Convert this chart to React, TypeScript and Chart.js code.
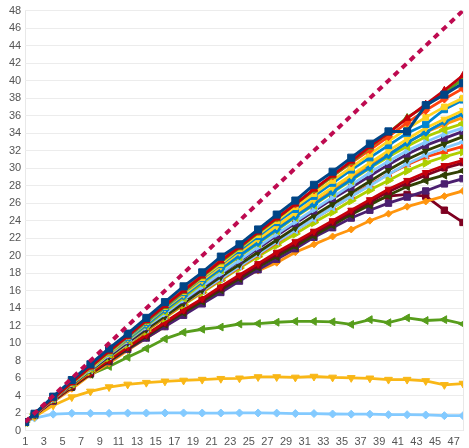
import React, { useEffect, useRef } from "react";
import { Chart, registerables } from "chart.js";

Chart.register(...registerables);

const X_POINTS = [1, 2, 4, 6, 8, 10, 12, 14, 16, 18, 20, 22, 24, 26, 28, 30, 32, 34, 36, 38, 40, 42, 44, 46, 48];
const X_TICKS = [1, 3, 5, 7, 9, 11, 13, 15, 17, 19, 21, 23, 25, 27, 29, 31, 33, 35, 37, 39, 41, 43, 45, 47, 48];
const Y_TICK_STEP = 2;

const IDEAL = [1, 2, 4, 6, 8, 10, 12, 14, 16, 18, 20, 22, 24, 26, 28, 30, 32, 34, 36, 38, 40, 42, 44, 46, 48];

const S_DARKBLUE = [1, 1.95, 3.9, 5.8, 7.6, 9.4, 11.1, 12.9, 14.7, 16.5, 18.1, 19.9, 21.3, 23.0, 24.7, 26.3, 28.1, 29.6, 31.2, 32.8, 34.2, 34.2, 37.2, 38.4, 39.7];
const S_RED_TOP = [1, 1.9, 3.7, 5.5, 7.3, 9.1, 10.8, 12.6, 14.3, 16.0, 17.7, 19.4, 21.0, 22.7, 24.3, 25.9, 27.6, 29.2, 30.8, 32.5, 34.0, 35.7, 37.3, 38.9, 40.6];
const S_GREEN_TOP = [1, 1.9, 3.7, 5.5, 7.3, 9.0, 10.8, 12.5, 14.2, 15.9, 17.6, 19.3, 20.9, 22.6, 24.2, 25.9, 27.5, 29.1, 30.7, 32.4, 34.0, 35.8, 37.1, 38.6, 40.2];
const S_ORANGERED = [1, 1.9, 3.8, 5.6, 7.4, 9.2, 10.9, 12.6, 14.4, 16.1, 17.8, 19.5, 21.1, 22.8, 24.3, 25.9, 27.5, 29.1, 30.6, 32.1, 33.6, 35.2, 36.6, 37.9, 39.1];
const S_YELLOW2 = [1, 1.9, 3.8, 5.6, 7.3, 9.0, 10.8, 12.5, 14.2, 15.9, 17.5, 19.1, 20.8, 22.4, 24.0, 25.6, 27.1, 28.6, 30.1, 31.6, 33.1, 34.5, 35.8, 37.0, 38.0];
const S_BLUE = [1, 1.9, 3.8, 5.6, 7.3, 9.0, 10.7, 12.4, 14.1, 15.8, 17.4, 19.0, 20.6, 22.2, 23.8, 25.3, 26.8, 28.3, 29.8, 31.2, 32.6, 34.0, 35.0, 36.7, 37.8];
const S_YELLOW = [1, 1.9, 3.7, 5.5, 7.2, 8.9, 10.6, 12.3, 14.0, 15.6, 17.2, 18.8, 20.4, 21.9, 23.4, 24.9, 26.4, 27.8, 29.2, 30.6, 32.0, 33.3, 34.6, 35.6, 36.6];
const S_BLUE2 = [1, 1.9, 3.7, 5.5, 7.2, 8.9, 10.5, 12.1, 13.8, 15.4, 17.0, 18.5, 20.0, 21.5, 23.0, 24.5, 25.9, 27.3, 28.7, 30.1, 31.5, 32.9, 34.1, 35.3, 36.2];
const S_ORANGE2 = [1, 1.9, 3.7, 5.5, 7.2, 8.9, 10.5, 12.2, 13.8, 15.4, 17.0, 18.6, 20.1, 21.6, 23.1, 24.6, 26.0, 27.5, 28.9, 30.3, 31.6, 32.9, 34.1, 35.0, 35.8];
const S_LIME = [1, 1.9, 3.7, 5.4, 7.1, 8.8, 10.4, 12.0, 13.6, 15.2, 16.8, 18.4, 19.9, 21.4, 22.9, 24.4, 25.8, 27.2, 28.6, 30.0, 31.3, 32.5, 33.6, 34.4, 35.1];
const S_LIGHTBLUE2 = [1, 1.85, 3.6, 5.4, 7.0, 8.7, 10.3, 11.9, 13.4, 15.0, 16.5, 18.0, 19.5, 21.0, 22.5, 23.9, 25.3, 26.7, 28.1, 29.5, 30.8, 32.0, 33.0, 33.9, 34.6];
const S_PURPLE = [1, 1.85, 3.6, 5.3, 7.0, 8.6, 10.2, 11.8, 13.4, 14.9, 16.4, 17.9, 19.4, 20.8, 22.3, 23.7, 25.1, 26.5, 27.8, 29.1, 30.4, 31.6, 32.6, 33.4, 34.2];
const S_DARKGREEN = [1, 1.85, 3.6, 5.3, 6.9, 8.5, 10.1, 11.6, 13.1, 14.6, 16.1, 17.6, 19.0, 20.4, 21.8, 23.2, 24.6, 25.9, 27.2, 28.5, 29.8, 31.0, 32.0, 32.8, 33.6];
const S_LIGHTBLUE = [1, 1.85, 3.6, 5.3, 6.9, 8.5, 10.0, 11.6, 13.1, 14.6, 16.0, 17.4, 18.8, 20.2, 21.6, 22.9, 24.2, 25.5, 26.8, 28.0, 29.3, 30.5, 31.5, 32.3, 33.0];
const S_ORANGERED2 = [1, 1.85, 3.6, 5.3, 6.9, 8.5, 10.0, 11.5, 13.0, 14.5, 15.9, 17.3, 18.7, 20.1, 21.5, 22.9, 24.2, 25.5, 26.8, 28.1, 29.3, 30.4, 31.3, 31.9, 32.5];
const S_LIME2 = [1, 1.85, 3.6, 5.2, 6.8, 8.4, 9.9, 11.4, 12.9, 14.4, 15.8, 17.2, 18.6, 19.9, 21.2, 22.5, 23.8, 25.0, 26.3, 27.5, 28.6, 29.7, 30.6, 31.3, 31.9];
const S_RED = [1, 1.8, 3.5, 5.1, 6.6, 8.1, 9.6, 11.0, 12.4, 13.8, 15.1, 16.5, 17.8, 19.1, 20.4, 21.6, 22.8, 24.0, 25.2, 26.4, 27.6, 28.6, 29.5, 30.3, 30.9];
const S_MAROON = [1, 1.8, 3.5, 5.1, 6.6, 8.1, 9.5, 10.9, 12.3, 13.7, 15.0, 16.3, 17.6, 18.9, 20.2, 21.4, 22.6, 23.8, 25.0, 26.2, 27.3, 28.3, 29.2, 30.0, 30.6];
const S_DARKGREEN2 = [1, 1.8, 3.5, 5.0, 6.5, 8.0, 9.4, 10.8, 12.2, 13.5, 14.8, 16.1, 17.4, 18.7, 19.9, 21.1, 22.3, 23.5, 24.7, 25.8, 26.9, 27.9, 28.6, 29.2, 29.7];
const S_PURPLE2 = [1, 1.8, 3.4, 5.0, 6.5, 7.9, 9.3, 10.6, 11.9, 13.2, 14.5, 15.8, 17.1, 18.4, 19.6, 20.8, 22.1, 23.2, 24.3, 25.2, 26.0, 26.7, 27.4, 28.2, 28.8];
const S_ORANGE = [1, 1.75, 3.3, 4.8, 6.4, 7.7, 9.2, 10.6, 11.9, 13.4, 14.8, 15.9, 17.3, 18.3, 19.2, 20.4, 21.3, 22.2, 23.0, 24.0, 24.8, 25.6, 26.2, 26.8, 27.4];
const S_MAROON2 = [1, 1.8, 3.5, 5.1, 6.6, 8.1, 9.5, 10.9, 12.3, 13.6, 14.9, 16.2, 17.5, 18.8, 20.0, 21.2, 22.5, 23.6, 24.8, 26.0, 26.8, 27.0, 26.8, 25.2, 23.8];
const S_GREEN_LOW = [1, 1.9, 3.6, 5.1, 6.45, 7.35, 8.4, 9.4, 10.5, 11.25, 11.6, 11.85, 12.2, 12.25, 12.4, 12.5, 12.5, 12.45, 12.15, 12.7, 12.35, 12.9, 12.6, 12.7, 12.2];
const S_YELLOW_LOW = [1, 1.6, 2.9, 3.85, 4.5, 5.0, 5.3, 5.5, 5.65, 5.75, 5.85, 5.95, 6.0, 6.15, 6.15, 6.1, 6.2, 6.1, 6.05, 6.0, 5.85, 5.85, 5.7, 5.25, 5.4];
const S_LIGHTBLUE_LOW = [1, 1.45, 1.9, 2.0, 2.0, 2.0, 2.02, 2.03, 2.04, 2.04, 2.03, 2.03, 2.04, 2.04, 2.02, 1.97, 1.97, 1.92, 1.9, 1.9, 1.84, 1.84, 1.81, 1.73, 1.73];

type Spec = { data: number[]; color: string; style: string; rot?: number; r?: number; w?: number };

const SERIES: Spec[] = [
  { data: S_DARKBLUE, color: "#004586", style: "rect", r: 5, w: 3 },
  { data: S_RED_TOP, color: "#c5000b", style: "triangle" },
  { data: S_GREEN_TOP, color: "#579d1c", style: "triangle" },
  { data: S_ORANGERED, color: "#ff420e", style: "rectRot" },
  { data: S_YELLOW2, color: "#ffd320", style: "rect" },
  { data: S_BLUE, color: "#0084d1", style: "rect", r: 4.5 },
  { data: S_YELLOW, color: "#ffd320", style: "triangle", rot: 180 },
  { data: S_BLUE2, color: "#0084d1", style: "rectRot" },
  { data: S_ORANGE2, color: "#ff950e", style: "triangle", rot: 90 },
  { data: S_LIME, color: "#aecf00", style: "triangle", rot: -90, r: 5 },
  { data: S_LIGHTBLUE2, color: "#83caff", style: "triangle", rot: 90 },
  { data: S_PURPLE, color: "#4b1f6f", style: "rect" },
  { data: S_DARKGREEN, color: "#314004", style: "triangle", rot: 180 },
  { data: S_LIGHTBLUE, color: "#83caff", style: "triangle", rot: -90 },
  { data: S_ORANGERED2, color: "#ff420e", style: "triangle" },
  { data: S_LIME2, color: "#aecf00", style: "triangle", rot: 90, r: 5 },
  { data: S_RED, color: "#c5000b", style: "triangle", rot: 180 },
  { data: S_MAROON, color: "#7e0021", style: "rect" },
  { data: S_DARKGREEN2, color: "#314004", style: "triangle", rot: -90, r: 4.5 },
  { data: S_PURPLE2, color: "#4b1f6f", style: "rect", r: 4.5 },
  { data: S_ORANGE, color: "#ff950e", style: "rectRot", r: 3.5 },
  { data: S_MAROON2, color: "#7e0021", style: "rect", r: 4.5 },
  { data: S_GREEN_LOW, color: "#579d1c", style: "triangle", rot: -90, r: 4.5 },
  { data: S_YELLOW_LOW, color: "#f9b716", style: "triangle", rot: 180, r: 4.5 },
  { data: S_LIGHTBLUE_LOW, color: "#83caff", style: "rectRot", r: 4 },
];

export default function App() {
  const ref = useRef<HTMLCanvasElement | null>(null);
  useEffect(() => {
    document.body.style.margin = "0";
    const canvas = ref.current;
    if (!canvas) return;
    const toPts = (arr: number[]) => arr.map((v, i) => ({ x: X_POINTS[i], y: v }));
    const datasets: any[] = [
      {
        label: "ideal",
        data: toPts(IDEAL),
        borderColor: "#be0a50",
        borderWidth: 4,
        borderDash: [6, 5],
        pointRadius: 0,
        fill: false,
      },
      ...SERIES.map((s, i) => ({
        label: "s" + i,
        data: toPts(s.data),
        borderColor: s.color,
        backgroundColor: s.color,
        borderWidth: s.w ?? 2.8,
        pointStyle: s.style,
        pointRotation: s.rot ?? 0,
        pointRadius: s.r ?? 4,
        pointBorderWidth: 1,
        fill: false,
        tension: 0,
      })),
    ];
    const chart = new Chart(canvas, {
      type: "line",
      data: { datasets },
      options: {
        animation: false,
        responsive: true,
        maintainAspectRatio: false,
        layout: { padding: { left: 5, right: 0, top: 5, bottom: -6 } },
        plugins: { legend: { display: false }, tooltip: { enabled: false } },
        scales: {
          x: {
            type: "linear",
            min: 1,
            max: 48,
            afterBuildTicks: (axis: any) => {
              axis.ticks = X_TICKS.map((v) => ({ value: v }));
            },
            ticks: {
              autoSkip: false,
              maxRotation: 0,
              padding: 5,
              color: "#555",
              font: { family: "'Liberation Sans', Arial, sans-serif", size: 11 },
              callback: (v: any) => (v === 48 ? "" : String(v)),
            },
            grid: {
              drawTicks: false,
              color: (ctx: any) =>
                ctx.tick && (ctx.tick.value === 1 || ctx.tick.value === 48) ? "#e8e8e8" : "rgba(0,0,0,0)",
            },
            border: { display: false },
          },
          y: {
            min: 0,
            max: 48,
            ticks: {
              stepSize: Y_TICK_STEP,
              autoSkip: false,
              padding: 4,
              color: "#555",
              font: { family: "'Liberation Sans', Arial, sans-serif", size: 11 },
            },
            grid: { drawTicks: false, color: "#ececec" },
            border: { display: false },
          },
        },
      },
    });
    return () => chart.destroy();
  }, []);
  return (
    <div style={{ width: "469px", height: "448px", position: "relative" }}>
      <canvas ref={ref} />
    </div>
  );
}
